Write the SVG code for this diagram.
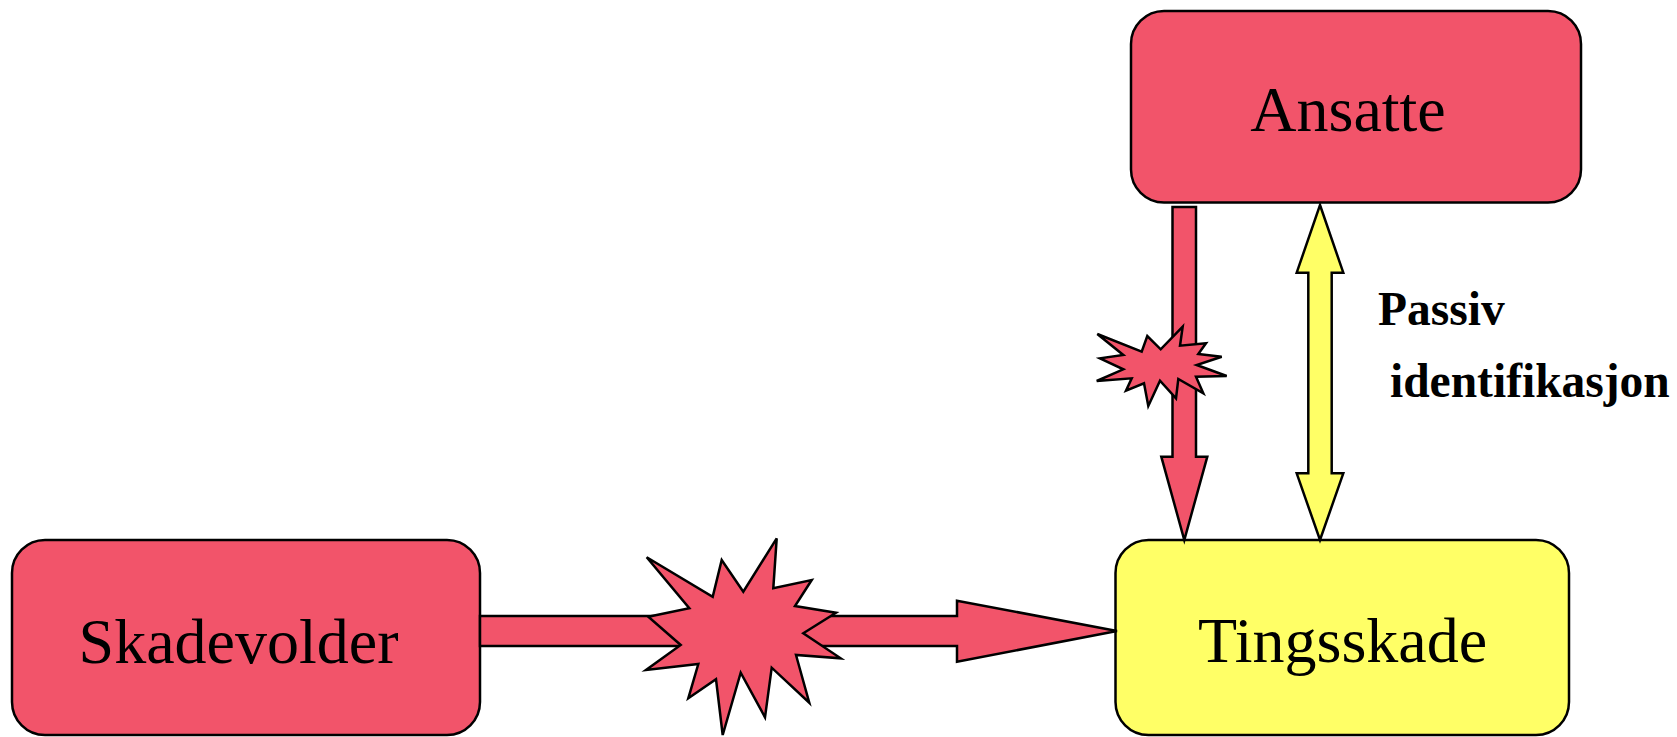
<svg xmlns="http://www.w3.org/2000/svg" width="1677" height="737" viewBox="0 0 1677 737">
<style>
.red{fill:#F2546A;stroke:#000;stroke-width:2.5;stroke-linejoin:miter}
.yel{fill:#FFFF66;stroke:#000;stroke-width:2.5;stroke-linejoin:miter}
.lbl{font-family:"Liberation Serif","Times New Roman",serif;font-size:64px;fill:#000;text-anchor:middle}
.note{font-family:"Liberation Serif","Times New Roman",serif;font-size:47.5px;font-weight:bold;fill:#000}
</style>
<rect width="1677" height="737" fill="#fff"/>
<g id="node-skadevolder">
<rect class="red" x="12" y="540" width="468" height="195" rx="33" ry="33"/>
<text class="lbl" x="238.5" y="663">Skadevolder</text>
</g>
<g id="node-tingsskade">
<rect class="yel" x="1115.5" y="540" width="453.5" height="195" rx="33" ry="33"/>
<text class="lbl" x="1342.5" y="662">Tingsskade</text>
</g>
<g id="node-ansatte">
<rect class="red" x="1131" y="11" width="450" height="191.5" rx="33" ry="33"/>
<text class="lbl" x="1348" y="130.5">Ansatte</text>
</g>
<g id="connectors">
<polygon class="red" points="480,616 957,616 957,600.7 1117,631 957,661.7 957,646 480,646"/>
<polygon class="red" points="646.7,557.3 712.7,596.7 721.7,560 743.3,591.7 776.7,538.3 773.3,588.3 811.7,580 795,606 836,612.7 803.3,633.3 840.7,658.3 796,655 809.3,702.7 771.7,667.7 765,717.3 740.7,672.7 722.7,735 716,679.3 688.3,698.3 698.3,664 646,670 680.7,645 648.3,616.7 689.3,608.3"/>
<polygon class="red" points="1172.5,207 1196,207 1196,456.7 1207.3,456.7 1184.3,540 1161.3,456.7 1172.5,456.7"/>
<polygon class="red" points="1097.3,334 1141.7,351.7 1147.3,336 1160.7,349.3 1182.7,326.7 1180,345.7 1206,343.3 1198.3,354 1221.7,356.7 1196.7,365 1226.7,376 1196,376.7 1203.3,393.3 1178.3,379 1176,398.3 1160,380.7 1148.3,406 1144,383.3 1126,390.7 1131.7,378.3 1096.7,381 1123.3,369.3 1100,358.3 1123.3,355"/>
<polygon class="yel" points="1320,205 1343.3,272.7 1331.7,272.7 1331.7,473.3 1343.3,473.3 1320,540 1296.7,473.3 1308.3,473.3 1308.3,272.7 1296.7,272.7"/>
</g>
<text class="note" x="1378" y="325">Passiv</text>
<text class="note" x="1390" y="397">identifikasjon</text>
</svg>
